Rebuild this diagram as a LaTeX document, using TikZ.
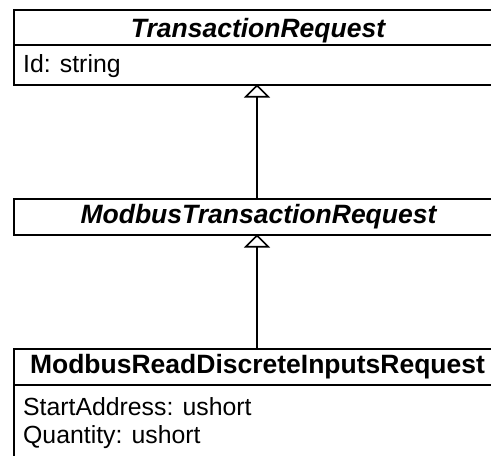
\documentclass[tikz,border=0pt]{standalone}
\usepackage{fontspec}
\setmainfont{Liberation Sans}
\usetikzlibrary{arrows.meta}
\tikzset{
  classbox/.style={draw, line width=1.6pt, fill=white, inner sep=0pt, anchor=north west},
  sep/.style={line width=1.6pt},
  title/.style={anchor=base, font=\fontsize{26.5}{30}\selectfont\bfseries, inner sep=0pt},
  abstitle/.style={title, font=\fontsize{26.5}{30}\selectfont\bfseries\itshape},
  attr/.style={anchor=base west, font=\fontsize{24.8}{28}\selectfont, inner sep=0pt},
  inherit/.style={line width=1.6pt, -{Triangle[open, length=13pt, width=26pt, line width=1.6pt]}, shorten >=0.5pt}
}
\begin{document}
\begin{tikzpicture}[x=1pt, y=-1pt]
  \useasboundingbox (0,0) rectangle (491,456);
  \clip (0,0) rectangle (491,456);

  % TransactionRequest
  \node[classbox, minimum width=492pt, minimum height=75pt] (tr) at (13,9) {};
  \draw[sep] (13,45) -- (505,45);
  \node[abstitle] (trname) at (258,37) {TransactionRequest};
  \node[attr] (trid) at (23,72.5) {Id: string};

  % ModbusTransactionRequest
  \node[classbox, minimum width=492pt, minimum height=36pt] (mtr) at (13,198) {};
  \node[abstitle] (mtrname) at (258.5,223) {ModbusTransactionRequest};

  % ModbusReadDiscreteInputsRequest
  \node[classbox, minimum width=492pt, minimum height=130pt] (mrd) at (13,348) {};
  \draw[sep] (13,385) -- (505,385);
  \node[title] (mrdname) at (257.5,373.5) {ModbusReadDiscreteInputsRequest};
  \node[attr] (mrdstart) at (23,415) {StartAddress: ushort};
  \node[attr] (mrdqty) at (23,443.5) {Quantity: ushort};

  % generalisations
  \coordinate (trfoot) at (257,84);
  \coordinate (mtrhead) at (257,198);
  \coordinate (mtrfoot) at (257,234);
  \coordinate (mrdhead) at (257,348);
  \draw[inherit] (mtrhead) -- (trfoot);
  \draw[inherit] (mrdhead) -- (mtrfoot);
\end{tikzpicture}
\end{document}
